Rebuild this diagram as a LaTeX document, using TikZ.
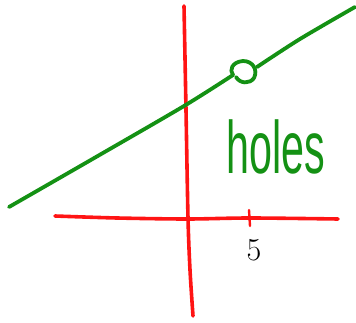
\documentclass[tikz,border=0pt]{standalone}
\usepackage{fontspec}
\setmainfont{Liberation Sans}
\newfontfamily\digitfont{Latin Modern Roman}
\definecolor{penred}{RGB}{255,20,20}
\definecolor{pengreen}{RGB}{20,145,20}
\begin{document}
\begin{tikzpicture}[x=1pt,y=-1pt,line cap=round,line join=round,
  redpen/.style={draw=penred,line width=3.6pt},
  greenpen/.style={draw=pengreen,line width=3.8pt}]
\useasboundingbox (0,0) rectangle (356,323);
% axes
\draw[redpen] plot[smooth] coordinates {(184,6) (186,110) (188,218) (190,270) (193,316)};
\draw[redpen] plot[smooth] coordinates {(55,216) (117,218) (187,219) (250,218) (338,219)};
\draw[redpen,line width=2.4pt] (249,210) -- (250,226);
% green line with hole
\draw[greenpen] plot[smooth] coordinates {(9,207) (96,157) (184,106) (233,75)};
\draw[greenpen] (233,75) .. controls (229,70) and (232,62) .. (243,61)
  .. controls (253,61) and (258,70) .. (254,78)
  .. controls (250,84) and (240,84) .. (236,77);
\draw[greenpen] plot[smooth] coordinates {(257,67) (300,39) (355,7)};
% labels
\node[text=pengreen,font=\fontsize{55}{55}\selectfont,xscale=0.75,yscale=1.35,anchor=base west,inner sep=0pt] (holes) at (226,174) {holes};
\node[font=\digitfont\fontsize{32}{32}\selectfont,inner sep=0pt] (five) at (254,250) {5};
\end{tikzpicture}
\end{document}
